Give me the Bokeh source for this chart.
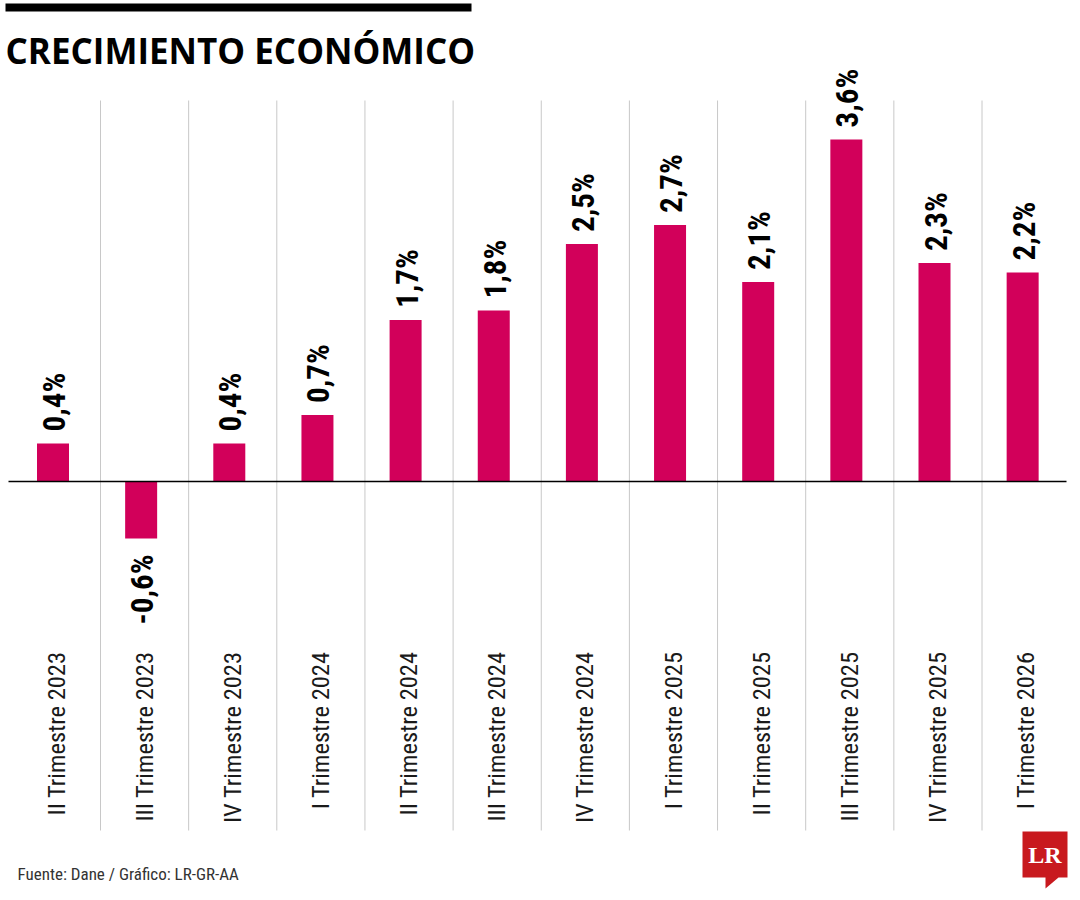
import math
from bokeh.plotting import figure
from bokeh.models import Range1d
from bokeh.core.properties import value
from bokeh.embed import file_html
from bokeh.resources import INLINE

# ---- data ----
categories = ["II Trimestre 2023", "III Trimestre 2023", "IV Trimestre 2023",
              "I Trimestre 2024", "II Trimestre 2024", "III Trimestre 2024",
              "IV Trimestre 2024", "I Trimestre 2025", "II Trimestre 2025",
              "III Trimestre 2025", "IV Trimestre 2025", "I Trimestre 2026"]
growth = [0.4, -0.6, 0.4, 0.7, 1.7, 1.8, 2.5, 2.7, 2.1, 3.6, 2.3, 2.2]
value_labels = ["0,4%", "-0,6%", "0,4%", "0,7%", "1,7%", "1,8%", "2,5%",
                "2,7%", "2,1%", "3,6%", "2,3%", "2,2%"]
title_text = "CRECIMIENTO ECONÓMICO"
source_text = "Fuente: Dane / Gráfico: LR-GR-AA"

# ---- layout helpers (pixel -> data) ----
W, H = 1080, 900
X0, DX = 52.5, 88.15
Y0, DY = 481.0, 95.0
def dx(px): return (px - X0) / DX
def dy(py): return (Y0 - py) / DY

BAR = "#D2005A"
NARROW = "'Roboto Condensed', 'Liberation Sans Narrow', 'DejaVu Sans Condensed', sans-serif"

p = figure(width=W, height=H, output_backend="svg", toolbar_location=None,
           x_range=Range1d(dx(0), dx(W)), y_range=Range1d(dy(H), dy(0)),
           x_axis_location=None, y_axis_location=None, min_border=0)
p.grid.visible = False
p.outline_line_color = None
p.background_fill_color = "white"
p.border_fill_color = "white"

idx = list(range(len(categories)))

# separators
sep_x = [i + 47.5 / DX for i in idx[:-1]]
p.segment(x0=sep_x, x1=sep_x, y0=[dy(100)] * len(sep_x), y1=[dy(830)] * len(sep_x),
          line_color="#c8c8c8", line_width=1)

# bars
p.vbar(x=idx, top=growth, bottom=0, width=32 / DX, fill_color=BAR, line_color=None)

# zero line
p.segment(x0=[dx(8)], x1=[dx(1066)], y0=[0], y1=[0], line_color="black", line_width=1.5)

# value labels
pos = [i for i in idx if growth[i] >= 0]
neg = [i for i in idx if growth[i] < 0]
off = 1.5 / DX
VSIZE = "31px"
p.text(x=[i + off for i in pos], y=[growth[i] + 12 / DY for i in pos],
       text=[value_labels[i] for i in pos], angle=math.pi / 2,
       text_align="left", text_baseline="middle", text_color="black",
       text_font=value(NARROW), text_font_style="bold", text_font_size=VSIZE)
p.text(x=[i + off for i in neg], y=[growth[i] - 16 / DY for i in neg],
       text=[value_labels[i] for i in neg], angle=math.pi / 2,
       text_align="right", text_baseline="middle", text_color="black",
       text_font=value(NARROW), text_font_style="bold", text_font_size=VSIZE)

# category labels
p.text(x=[i + 3 / DX for i in idx], y=[dy(651)] * len(idx), text=categories,
       angle=math.pi / 2, text_align="right", text_baseline="middle",
       text_color="#1a1a1a", text_font=value(NARROW), text_font_size="24.5px")

# title bar + title
p.quad(left=[dx(5)], right=[dx(471)], top=[dy(3)], bottom=[dy(11)],
       fill_color="black", line_color=None)
p.text(x=[dx(5)], y=[dy(50)], text=[title_text], text_font=value("Open Sans"),
       text_font_style="bold", text_font_size="35px", text_color="black",
       text_align="left", text_baseline="middle")

# source
p.text(x=[dx(17)], y=[dy(873)], text=[source_text], text_font=value(NARROW),
       text_font_size="17px", text_color="#333333",
       text_align="left", text_baseline="middle")

# LR logo
lx = [1022, 1067, 1067, 1058, 1045, 1045, 1022]
ly = [831, 831, 877, 877, 888, 877, 877]
p.patch(x=[dx(v) for v in lx], y=[dy(v) for v in ly], fill_color="#C8191E", line_color=None)
p.text(x=[dx(1044.5)], y=[dy(854)], text=["LR"], text_font=value("Liberation Serif"),
       text_font_style="bold", text_font_size="24px", text_color="white",
       text_align="center", text_baseline="middle")

open("out.html", "w").write(file_html(p, INLINE))
